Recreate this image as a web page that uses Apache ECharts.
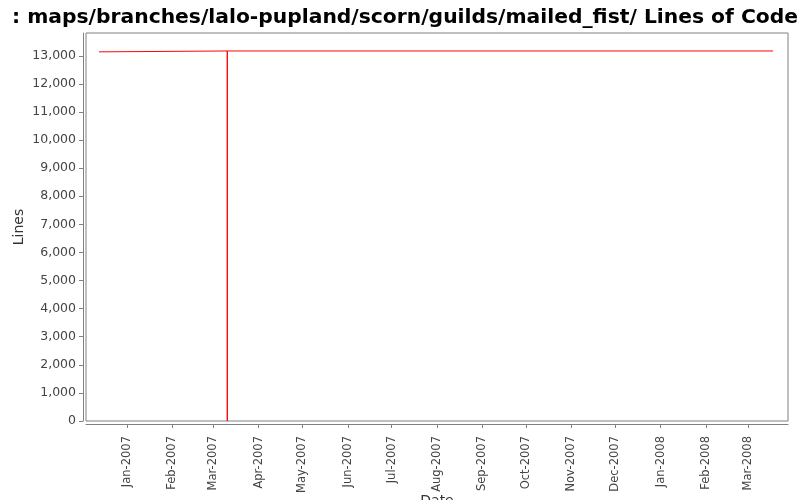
<!DOCTYPE html>
<html>
<head>
<meta charset="utf-8">
<script src="https://cdn.jsdelivr.net/npm/echarts@6/dist/echarts.min.js"></script>
<style>
html,body{margin:0;padding:0;background:#fff;}
#chart{width:800px;height:500px;}
</style>
</head>
<body>
<div id="chart"></div>
<script>
// Data
var chartTitle = ': maps/branches/lalo-pupland/scorn/guilds/mailed_fist/ Lines of Code';
var pointDates = [
  '2006-12-12T20:00:00Z',
  '2006-12-16T22:00:00Z',
  '2007-03-10T14:00:00Z',
  '2007-03-10T14:05:00Z',
  '2008-03-18T00:00:00Z'
];
var pointLines = [13140, 13170, 0, 13170, 13170];
var yTicks = [0,1000,2000,3000,4000,5000,6000,7000,8000,9000,10000,11000,12000,13000];
var monthTicks = ['2007-01-01','2007-02-01','2007-03-01','2007-04-01','2007-05-01','2007-06-01','2007-07-01','2007-08-01','2007-09-01','2007-10-01','2007-11-01','2007-12-01','2008-01-01','2008-02-01','2008-03-01'];
var monthNames = ['Jan','Feb','Mar','Apr','May','Jun','Jul','Aug','Sep','Oct','Nov','Dec'];
var xMin = '2006-12-03T22:00:00Z';
var xMax = '2008-03-28T05:00:00Z';
var yMax = 13810;

var seriesData = pointDates.map(function(d, i){ return [Date.parse(d), pointLines[i]]; });
var monthTickValues = monthTicks.map(function(d){ return Date.parse(d + 'T00:00:00Z'); });

function fmtThousands(v){
  return String(v).replace(/\B(?=(\d{3})+(?!\d))/g, ',');
}

var chart = echarts.init(document.getElementById('chart'), null, {renderer:'canvas'});
chart.setOption({
  animation: false,
  backgroundColor: '#ffffff',
  title: {
    text: chartTitle,
    left: 7,
    top: 3,
    textStyle: {fontFamily: 'DejaVu Sans', fontWeight: 'bold', fontSize: 20.3, color: '#000'}
  },
  grid: {
    left: 86, right: 12, top: 33, bottom: 79,
    outerBoundsMode: 'none',
    containLabel: false,
    show: true, borderColor: '#808080', borderWidth: 1, backgroundColor: '#fff'
  },
  xAxis: {
    type: 'value',
    min: Date.parse(xMin),
    max: Date.parse(xMax),
    offset: 3,
    name: 'Date',
    nameLocation: 'middle',
    nameGap: 70,
    nameMoveOverlap: false,
    nameTextStyle: {fontFamily: 'DejaVu Sans', fontSize: 14, color: '#333'},
    axisLine: {show: true, onZero: false, lineStyle: {color: '#808080', width: 1}},
    axisTick: {show: true, length: 4, lineStyle: {color: '#808080'}, customValues: monthTickValues},
    splitLine: {show: false},
    axisLabel: {
      rotate: 90,
      margin: 12,
      fontFamily: 'DejaVu Sans',
      fontSize: 11.5,
      color: '#444',
      customValues: monthTickValues,
      formatter: function(v){
        var d = new Date(v);
        return monthNames[d.getUTCMonth()] + '-' + d.getUTCFullYear();
      }
    }
  },
  yAxis: {
    type: 'value',
    min: 0,
    max: yMax,
    offset: 3,
    name: 'Lines',
    nameLocation: 'middle',
    nameRotate: 90,
    nameGap: 57,
    nameMoveOverlap: false,
    nameTextStyle: {fontFamily: 'DejaVu Sans', fontSize: 14, color: '#333'},
    axisLine: {show: true, onZero: false, lineStyle: {color: '#808080', width: 1}},
    axisTick: {show: true, length: 4, lineStyle: {color: '#808080'}, customValues: yTicks},
    splitLine: {show: false},
    axisLabel: {
      margin: 7,
      fontFamily: 'DejaVu Sans',
      fontSize: 12.5,
      color: '#444',
      customValues: yTicks,
      formatter: function(v){ return fmtThousands(v); }
    }
  },
  series: [{
    type: 'line',
    step: 'end',
    data: seriesData,
    showSymbol: false,
    symbol: 'none',
    lineStyle: {color: '#ff0000', width: 1},
    itemStyle: {color: '#ff0000'}
  }]
});
</script>
</body>
</html>
